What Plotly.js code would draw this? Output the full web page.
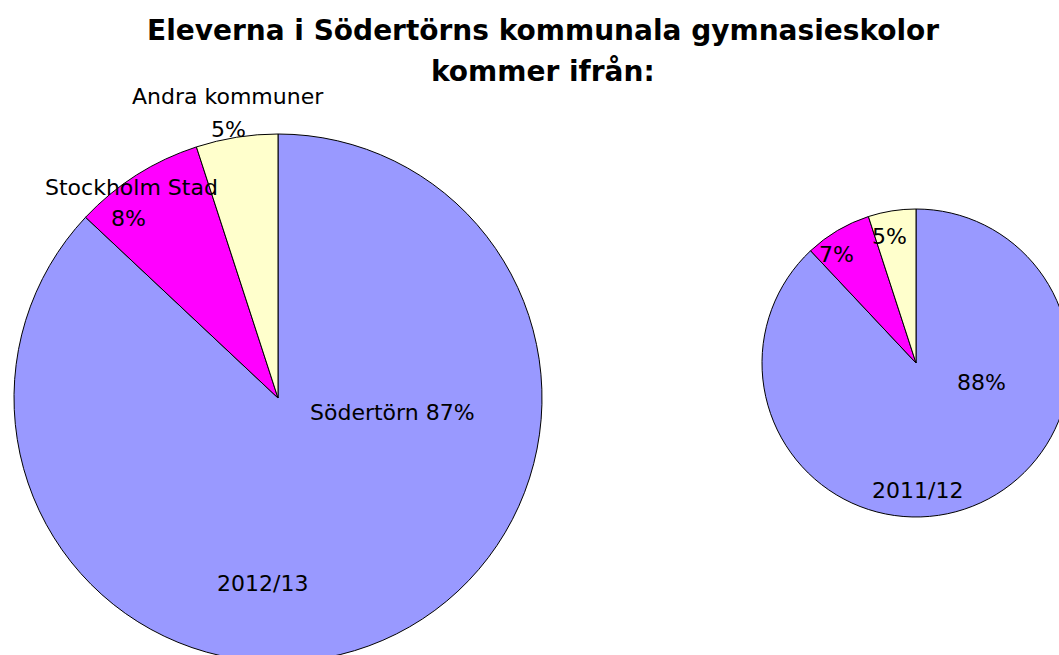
<!DOCTYPE html>
<html>
<head>
<meta charset="utf-8">
<script src="https://cdn.plot.ly/plotly-3.0.1.min.js"></script>
<style>
html,body{margin:0;padding:0;overflow:hidden;background:#fff;}
#chart{width:1080px;height:680px;}
</style>
</head>
<body>
<div id="chart"></div>
<script>
// Data
const categories = ["Södertörn", "Stockholm Stad", "Andra kommuner"];
const values2012 = [87, 8, 5];
const values2011 = [88, 7, 5];
const years = ["2012/13", "2011/12"];
const titleLines = ["Eleverna i Södertörns kommunala gymnasieskolor", "kommer ifrån:"];
const colors = ["#9999FF", "#FF00FF", "#FFFFCC"];

const W = 1080, H = 680;
const px = x => x / W;
const py = y => 1 - y / H;

const pieBase = {
  type: "pie",
  labels: categories,
  sort: false,
  direction: "clockwise",
  rotation: 0,
  textinfo: "none",
  hoverinfo: "label+value",
  showlegend: false,
  marker: {colors: colors, line: {color: "#000000", width: 1}}
};

const data = [
  Object.assign({}, pieBase, {
    values: values2012,
    domain: {x: [px(14), px(542)], y: [py(662), py(134)]}
  }),
  Object.assign({}, pieBase, {
    values: values2011,
    domain: {x: [px(762), px(1070)], y: [py(517), py(209)]}
  })
];

const lblFont = {family: "DejaVu Sans, Verdana, sans-serif", size: 22, color: "#000000"};
function ann(text, x, y, font) {
  return {text: text, x: px(x), y: py(y), xref: "paper", yref: "paper",
          xanchor: "center", yanchor: "middle", showarrow: false, font: font || lblFont};
}
const titleFont = {family: "DejaVu Sans, Verdana, sans-serif", size: 28, color: "#000000", weight: "bold"};

const annotations = [
  ann("<b>" + titleLines[0] + "</b>", 543, 31, titleFont),
  ann("<b>" + titleLines[1] + "</b>", 543, 72, titleFont),
  ann(categories[0] + " " + values2012[0] + "%", 392, 413),
  ann(years[0], 262, 583),
  ann(categories[1], 131, 187),
  ann(values2012[1] + "%", 128, 219),
  ann(categories[2], 228, 97),
  ann(values2012[2] + "%", 228, 129),
  ann(values2011[0] + "%", 981, 382),
  ann(years[1], 917, 490),
  ann(values2011[1] + "%", 836, 254),
  ann(values2011[2] + "%", 889, 236)
];

const layout = {
  width: W, height: H,
  margin: {l: 0, r: 0, t: 0, b: 0},
  paper_bgcolor: "#ffffff",
  plot_bgcolor: "#ffffff",
  showlegend: false,
  annotations: annotations
};

Plotly.newPlot("chart", data, layout, {displayModeBar: false, staticPlot: true});
</script>
</body>
</html>
